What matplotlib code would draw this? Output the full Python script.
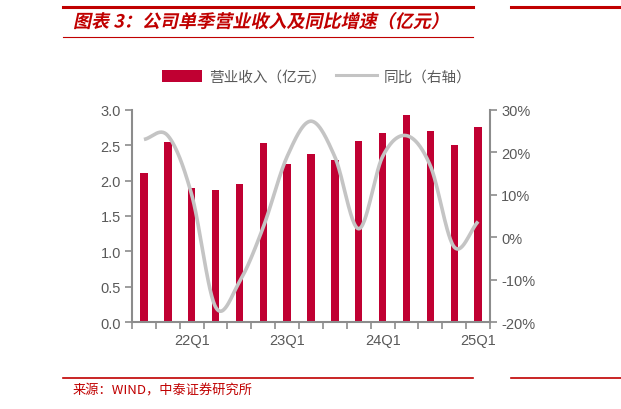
import numpy as np
import matplotlib
matplotlib.use("Agg")
import matplotlib.pyplot as plt
from matplotlib.lines import Line2D
from matplotlib.patches import Patch
from matplotlib.patheffects import AbstractPathEffect
from matplotlib.transforms import Affine2D

plt.rcParams['font.family'] = ['Liberation Sans', 'Noto Sans CJK SC', 'DejaVu Sans']

quarters = ['21Q3', '21Q4', '22Q1', '22Q2', '22Q3', '22Q4', '23Q1', '23Q2', '23Q3',
            '23Q4', '24Q1', '24Q2', '24Q3', '24Q4', '25Q1']
revenue = [2.11, 2.55, 1.89, 1.87, 1.95, 2.53, 2.24, 2.38, 2.29, 2.56, 2.67, 2.93, 2.70, 2.50, 2.76]
yoy = [23.0, 23.9, 10.0, -16.4, -10.5, 2.4, 19.0, 27.3, 18.9, 2.0, 19.0, 23.9, 16.8, -2.3, 3.7]
label_quarters = ['22Q1', '23Q1', '24Q1', '25Q1']

RED = '#C00032'
GRAY_LINE = '#C4C4C4'
AX_GRAY = '#8C8C8C'
TXT = '#595959'
TITLE_RED = '#C00000'


class Slant(AbstractPathEffect):
    """Shear the glyph outlines to imitate an italic face."""
    def __init__(self, deg=12):
        super().__init__()
        self.deg = deg

    def draw_path(self, renderer, gc, tpath, affine, rgbFace=None):
        m = affine.get_matrix()
        ox, oy = m[0, 2], m[1, 2]
        shear = Affine2D().translate(-ox, -oy).skew_deg(self.deg, 0).translate(ox, oy)
        renderer.draw_path(gc, tpath, affine + shear, rgbFace)


def catmull_rom(x, y, n=30):
    x = np.asarray(x, float); y = np.asarray(y, float)
    px = np.concatenate([[2*x[0]-x[1]], x, [2*x[-1]-x[-2]]])
    py = np.concatenate([[2*y[0]-y[1]], y, [2*y[-1]-y[-2]]])
    xs, ys = [], []
    for i in range(1, len(px)-2):
        p0, p1, p2, p3 = py[i-1], py[i], py[i+1], py[i+2]
        q0, q1, q2, q3 = px[i-1], px[i], px[i+1], px[i+2]
        t = np.linspace(0, 1, n, endpoint=(i == len(px)-3))
        bez = lambda a0, a1, a2, a3: ((1-t)**3*a0 + 3*(1-t)**2*t*a1 + 3*(1-t)*t**2*a2 + t**3*a3)
        xs.append(bez(q1, q1 + (q2-q0)/6, q2 - (q3-q1)/6, q2))
        ys.append(bez(p1, p1 + (p2-p0)/6, p2 - (p3-p1)/6, p2))
    return np.concatenate(xs), np.concatenate(ys)


fig = plt.figure(figsize=(6.21, 4.10), dpi=100)
ax = fig.add_axes([0.2126, 0.2115, 0.5765, 0.5185])
x = np.arange(len(quarters))
ax.bar(x, revenue, width=0.31, color=RED, zorder=2)
ax.set_ylim(0, 3.0)
ax.set_yticks(np.arange(0, 3.01, 0.5))
ax.set_yticklabels([f'{v:.1f}' for v in np.arange(0, 3.01, 0.5)])
ax.set_xlim(-0.5, len(quarters)-0.5)
ax.set_xticks(np.arange(-0.5, len(quarters), 1.0))
ax.set_xticklabels([])
ax.set_xticks([quarters.index(q) for q in label_quarters], minor=True)
ax.set_xticklabels(label_quarters, minor=True)
ax.tick_params(axis='x', which='minor', length=0, pad=8, labelsize=10.5, labelcolor=TXT)
ax.tick_params(axis='x', which='major', length=5, width=1.2, color=AX_GRAY, direction='out')
ax.tick_params(axis='y', length=5, width=1.2, color=AX_GRAY, labelsize=10.5, labelcolor=TXT, pad=3)
for s in ['top', 'right']:
    ax.spines[s].set_visible(False)
for s in ['left', 'bottom']:
    ax.spines[s].set_color(AX_GRAY); ax.spines[s].set_linewidth(1.5)

ax2 = ax.twinx()
sx, sy = catmull_rom(x, yoy)
ax2.plot(sx, sy, color=GRAY_LINE, lw=2.6, zorder=3, solid_capstyle='butt')
ax2.set_ylim(-20, 30)
ax2.set_yticks(np.arange(-20, 31, 10))
ax2.set_yticklabels([f'{v}%' for v in range(-20, 31, 10)])
ax2.tick_params(axis='y', length=5, width=1.2, color=AX_GRAY, labelsize=10.5, labelcolor=TXT, pad=3)
for s in ['top', 'left', 'bottom']:
    ax2.spines[s].set_visible(False)
ax2.spines['right'].set_color(AX_GRAY); ax2.spines['right'].set_linewidth(1.5)

handles = [Patch(facecolor=RED, edgecolor='none'), Line2D([], [], color=GRAY_LINE, lw=2.2)]
fig.legend(handles, ['营业收入（亿元）', '同比（右轴）'], loc='center', bbox_to_anchor=(0.51, 0.81),
           ncol=2, frameon=False, handlelength=2.75, handleheight=0.9,
           columnspacing=0.7, handletextpad=0.5, labelcolor=TXT,
           prop={'family': ['Noto Sans CJK SC'], 'size': 10.5})

# title & decorative lines
fig.add_artist(Line2D([63/621, 473/621], [1-8/410, 1-8/410], color=TITLE_RED, lw=2.2))
fig.add_artist(Line2D([511/621, 1.0], [1-8/410, 1-8/410], color=TITLE_RED, lw=2.2))
fig.add_artist(Line2D([63/621, 473/621], [1-38/410, 1-38/410], color=TITLE_RED, lw=0.8))
fig.text(73/621, 1-23/410, '图表 3：公司单季营业收入及同比增速（亿元）', color=TITLE_RED,
         fontsize=13, fontweight='bold', va='center', ha='left',
         family=['Noto Sans CJK SC', 'DejaVu Sans'], path_effects=[Slant(12)])

fig.add_artist(Line2D([63/621, 473/621], [1-379/410, 1-379/410], color=TITLE_RED, lw=1.2))
fig.add_artist(Line2D([511/621, 1.0], [1-379/410, 1-379/410], color=TITLE_RED, lw=1.2))
fig.text(73/621, 1-391/410, '来源：WIND，中泰证券研究所', color=TITLE_RED, fontsize=9.5,
         va='center', ha='left', family=['Noto Sans CJK SC', 'DejaVu Sans'])

fig.savefig('out.png', dpi=100, facecolor='white')
